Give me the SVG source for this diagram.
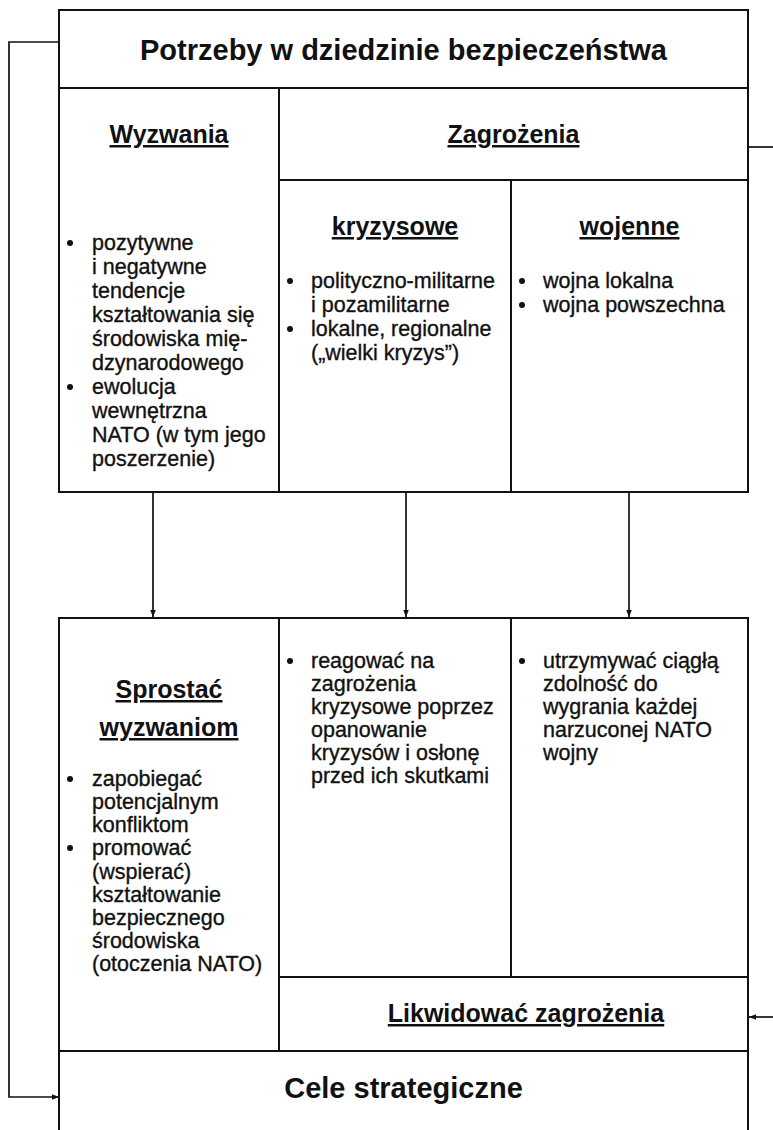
<svg xmlns="http://www.w3.org/2000/svg" width="773" height="1130" viewBox="0 0 773 1130">
  <style>
    .cell { fill: #ffffff; stroke: #111111; stroke-width: 2; }
    .conn { fill: none; stroke: #111111; stroke-width: 1.7; }
    .title { font-family: "Liberation Sans", Arial, sans-serif; font-weight: bold; font-size: 29px; fill: #111111; text-anchor: middle; }
    .head { font-family: "Liberation Sans", Arial, sans-serif; font-weight: bold; font-size: 25px; fill: #111111; text-anchor: middle; text-decoration: underline; }
    .body { font-family: "Liberation Sans", Arial, sans-serif; font-size: 21.5px; fill: #111111; stroke: #111111; stroke-width: 0.35; }
    .dot { fill: #111111; }
  </style>
  <defs>
    <marker id="arrow" viewBox="0 0 10 10" refX="10" refY="5" markerWidth="7" markerHeight="7" orient="auto" markerUnits="userSpaceOnUse">
      <path d="M0,1 L10,5 L0,9 Z" fill="#111111"/>
    </marker>
  </defs>
  <rect width="773" height="1130" fill="#ffffff"/>

  <!-- connectors: feedback loop on the left, link on the right, three downward arrows -->
  <g id="connectors">
    <polyline class="conn" points="59,42 9,42 9,1097 59,1097" marker-end="url(#arrow)"/>
    <line class="conn" x1="748" y1="147" x2="773" y2="147"/>
    <line class="conn" x1="773" y1="1017" x2="749" y2="1017" marker-end="url(#arrow)"/>
    <line class="conn" x1="153" y1="492" x2="153" y2="617" marker-end="url(#arrow)"/>
    <line class="conn" x1="406" y1="492" x2="406" y2="617" marker-end="url(#arrow)"/>
    <line class="conn" x1="629" y1="492" x2="629" y2="617" marker-end="url(#arrow)"/>
  </g>

  <!-- header -->
  <g id="potrzeby">
    <rect class="cell" x="59" y="10" width="689" height="78"/>
    <text class="title" x="403.5" y="60">Potrzeby w dziedzinie bezpieczeństwa</text>
  </g>

  <g id="wyzwania">
    <rect class="cell" x="59" y="88" width="220" height="404"/>
    <text class="head" x="169" y="143">Wyzwania</text>
    <circle class="dot" cx="70" cy="243" r="3"/>
    <circle class="dot" cx="70" cy="387" r="3"/>
    <text class="body" x="92" y="250">pozytywne</text>
    <text class="body" x="92" y="274">i negatywne</text>
    <text class="body" x="92" y="298">tendencje</text>
    <text class="body" x="92" y="322">kształtowania się</text>
    <text class="body" x="92" y="346">środowiska mię-</text>
    <text class="body" x="92" y="370">dzynarodowego</text>
    <text class="body" x="92" y="394">ewolucja</text>
    <text class="body" x="92" y="418">wewnętrzna</text>
    <text class="body" x="92" y="442">NATO (w tym jego</text>
    <text class="body" x="92" y="466">poszerzenie)</text>
  </g>

  <g id="zagrozenia">
    <rect class="cell" x="279" y="88" width="469" height="92"/>
    <text class="head" x="513.5" y="143">Zagrożenia</text>
  </g>

  <g id="kryzysowe">
    <rect class="cell" x="279" y="180" width="232" height="312"/>
    <text class="head" x="395" y="235">kryzysowe</text>
    <circle class="dot" cx="290" cy="281" r="3"/>
    <circle class="dot" cx="290" cy="329" r="3"/>
    <text class="body" x="311" y="288">polityczno-militarne</text>
    <text class="body" x="311" y="312">i pozamilitarne</text>
    <text class="body" x="311" y="336">lokalne, regionalne</text>
    <text class="body" x="311" y="360">(„wielki kryzys”)</text>
  </g>

  <g id="wojenne">
    <rect class="cell" x="511" y="180" width="237" height="312"/>
    <text class="head" x="629.5" y="235">wojenne</text>
    <circle class="dot" cx="522" cy="281" r="3"/>
    <circle class="dot" cx="522" cy="305" r="3"/>
    <text class="body" x="543" y="288">wojna lokalna</text>
    <text class="body" x="543" y="312">wojna powszechna</text>
  </g>

  <!-- lower part -->
  <g id="sprostac">
    <rect class="cell" x="59" y="618" width="220" height="433"/>
    <text class="head" x="169" y="698">Sprostać</text>
    <text class="head" x="169" y="736">wyzwaniom</text>
    <circle class="dot" cx="70" cy="779" r="3"/>
    <circle class="dot" cx="70" cy="848" r="3"/>
    <text class="body" x="92" y="786">zapobiegać</text>
    <text class="body" x="92" y="809">potencjalnym</text>
    <text class="body" x="92" y="832">konfliktom</text>
    <text class="body" x="92" y="855">promować</text>
    <text class="body" x="92" y="879">(wspierać)</text>
    <text class="body" x="92" y="902">kształtowanie</text>
    <text class="body" x="92" y="925">bezpiecznego</text>
    <text class="body" x="92" y="948">środowiska</text>
    <text class="body" x="92" y="971">(otoczenia NATO)</text>
  </g>

  <g id="reagowac">
    <rect class="cell" x="279" y="618" width="232" height="359"/>
    <circle class="dot" cx="290" cy="661" r="3"/>
    <text class="body" x="311" y="668">reagować na</text>
    <text class="body" x="311" y="691">zagrożenia</text>
    <text class="body" x="311" y="714">kryzysowe poprzez</text>
    <text class="body" x="311" y="737">opanowanie</text>
    <text class="body" x="311" y="760">kryzysów i osłonę</text>
    <text class="body" x="311" y="783">przed ich skutkami</text>
  </g>

  <g id="utrzymywac">
    <rect class="cell" x="511" y="618" width="237" height="359"/>
    <circle class="dot" cx="522" cy="661" r="3"/>
    <text class="body" x="543" y="668">utrzymywać ciągłą</text>
    <text class="body" x="543" y="691">zdolność do</text>
    <text class="body" x="543" y="714">wygrania każdej</text>
    <text class="body" x="543" y="737">narzuconej NATO</text>
    <text class="body" x="543" y="760">wojny</text>
  </g>

  <g id="likwidowac">
    <rect class="cell" x="279" y="977" width="469" height="74"/>
    <text class="head" x="526" y="1022">Likwidować zagrożenia</text>
  </g>

  <g id="cele">
    <rect class="cell" x="59" y="1051" width="689" height="90"/>
    <text class="title" x="403.5" y="1098">Cele strategiczne</text>
  </g>
</svg>
